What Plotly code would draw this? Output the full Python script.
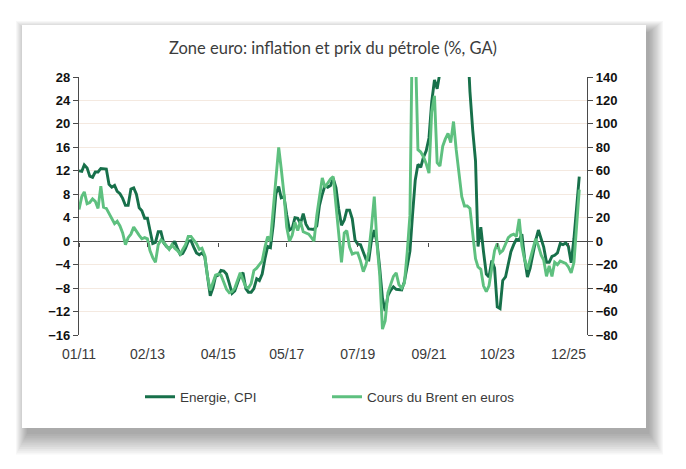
import pandas as pd
import plotly.graph_objects as go

# ---- data (monthly, Jan 2011 -> Apr 2026) ----
energie_cpi = [
    12.0, 11.9, 13.0, 12.5, 11.1, 10.9, 11.8, 11.8, 12.4, 12.4, 12.3, 9.7,
    9.2, 9.5, 8.5, 8.1, 7.3, 6.1, 6.1, 8.9, 9.1, 8.0, 5.7, 5.2,
    3.9, 3.9, 1.7, -0.4, -0.2, 1.6, 1.6, -0.3, -0.9, -1.3, -0.8, 0.0,
    -1.2, -2.3, -2.1, -1.2, 0.0, 0.1, -1.0, -2.0, -2.3, -2.0, -2.6, -6.3,
    -9.3, -7.9, -6.0, -5.8, -5.0, -5.1, -5.6, -7.2, -8.9, -8.5, -7.3, -5.8,
    -5.4, -8.1, -8.7, -8.7, -8.1, -6.4, -6.7, -5.6, -3.0, -0.9, -1.1, 2.6,
    8.1, 9.3, 7.4, 7.6, 4.5, 1.9, 2.2, 4.0, 3.9, 3.0, 4.7, 2.9,
    2.1, 2.1, 2.0, 2.6, 6.1, 8.0, 9.5, 9.2, 9.5, 10.7, 9.1, 5.5,
    2.7, 3.6, 5.3, 5.3, 3.8, 0.2, -0.5, -0.6, -1.8, -3.1, -3.2, 0.2,
    1.9, -0.3, -4.5, -9.7, -11.9, -9.3, -8.4, -7.8, -8.2, -8.2, -8.3, -6.9,
    -4.2, -1.7, 4.3, 10.4, 13.1, 12.6, 14.3, 15.4, 17.6, 23.7, 27.5, 26.0,
    28.8, 32.0, 44.4, 37.5, 39.1, 42.0, 39.6, 38.6, 40.7, 41.5, 34.9, 25.5,
    18.9, 13.7, -0.9, 2.4, -1.8, -5.6, -6.1, -3.3, -4.6, -11.2, -11.5, -6.7,
    -6.1, -3.7, -1.8, -0.6, 0.3, 0.2, 1.2, -3.0, -6.1, -4.6, -2.0, 0.1,
    1.9, 0.2, -1.0, -3.6, -3.6, -2.6, -2.4, -2.0, -0.4, -0.6, -0.3, -0.9,
    -3.7, 0.5, 6.0, 11.0,
]

brent_eur = [
    27, 38, 42, 32, 33, 36, 34, 28, 47, 29, 28, 24,
    19, 15, 17, 13, 7, -3, 3, 6, 12, 8, 5, 2,
    3, 2, -8, -14, -18, -3, 1, -1, -4, -7, -3, -6,
    -8, -11, -7, -3, 4, 4, 1, -2, -7, -6, -12, -30,
    -42, -34, -29, -28, -29, -35, -41, -44, -43, -40, -34, -27,
    -33, -39, -40, -36, -25, -23, -20, -17, -5, 4, 0, 28,
    55, 80, 62, 40, 12, 0, 5, 16, 9, 17, 8, 7,
    6, 3, 0, 22, 40, 54, 46, 50, 53, 55, 30, 5,
    -18, 7, 9, -5, -11, -10, -10, -17, -26, -20, -9, 12,
    38, -3, -28, -75, -68, -44, -37, -30, -27, -37, -40, -36,
    -10, 22, 190, 170, 78, 76, 72, 66, 58, 110, 124, 67,
    64, 81, 87, 92, 84, 102, 78, 57, 38, 30, 30, 28,
    5, -15, -22, -24, -38, -43, -38, -22, -8, -2, -10, -8,
    -3, 3, 5, 6, 4, 19, -4, -16, -24, -16, -8, 2,
    -4, -12, -16, -30, -21, -30, -18, -20, -17, -18, -19, -22,
    -27, -18, 16, 44,
]

tick_dates = ["2011-01-01", "2013-02-01", "2015-04-01", "2017-05-01",
              "2019-07-01", "2021-09-01", "2023-10-01", "2025-12-01"]

title_text = "Zone euro: inflation et prix du pétrole (%, GA)"
name_energie = "Energie, CPI"
name_brent = "Cours du Brent en euros"

dates = pd.date_range("2011-01-01", periods=len(energie_cpi), freq="MS")

# ---- layout geometry (pixels) ----
W, H = 686, 469
L, R, T, B = 79, 587, 77, 335          # plot area edges
pw, ph = R - L, B - T

def px(x):
    return (x - L) / pw

def py(y):
    return (B - y) / ph

DARK = "#17704A"
LIGHT = "#5EC07F"
AXIS = "#4a4a4a"
SANS = "Liberation Sans, Arial, sans-serif"
TXT = "#3a3a3a"

fig = go.Figure()
fig.add_trace(go.Scatter(x=dates, y=energie_cpi, name=name_energie, mode="lines",
                         line=dict(color=DARK, width=2.9), yaxis="y", xaxis="x",
                         legend="legend"))
fig.add_trace(go.Scatter(x=dates, y=brent_eur, name=name_brent, mode="lines",
                         line=dict(color=LIGHT, width=2.9), yaxis="y2", xaxis="x",
                         legend="legend2"))
# helper (empty) trace so the zero-line tick axis is drawn
fig.add_trace(go.Scatter(x=[dates[0]], y=[None], xaxis="x2", yaxis="y",
                         showlegend=False, hoverinfo="skip", mode="lines"))

# card with soft shadow (mostly below / right)
shapes = []
cx0, cy0, cx1, cy1 = 22, 25, 646, 428
N = 12
for i in range(N, 0, -1):
    e = i * 1.25
    shapes.append(dict(type="rect", xref="paper", yref="paper", layer="below",
                       x0=px(cx0 + 6 - 0.8 * e), x1=px(cx1 + 2 + e),
                       y0=py(cy1 + 4 + 1.5 * e), y1=py(cy0 + 8 - 0.8 * e),
                       line=dict(width=0), fillcolor="rgba(0,0,0,0.03)"))
shapes.append(dict(type="rect", xref="paper", yref="paper", layer="below",
                   x0=px(cx0), x1=px(cx1), y0=py(cy1), y1=py(cy0),
                   line=dict(width=0), fillcolor="white"))

xrange = ["2011-01-01", "2026-06-26"]

leg_common = dict(orientation="h", xanchor="left", yanchor="middle",
                  font=dict(family=SANS, size=13.5, color=TXT),
                  bgcolor="rgba(0,0,0,0)", itemwidth=30)

tickfont_y = dict(family=SANS, size=13, color="#111111", weight="bold")

fig.update_layout(
    width=W, height=H,
    margin=dict(l=L, r=W - R, t=T, b=H - B),
    paper_bgcolor="white", plot_bgcolor="rgba(0,0,0,0)",
    shapes=shapes,
    title=dict(text=title_text, x=333 / W, xanchor="center", y=1 - 48 / H, yanchor="middle",
               font=dict(family="Lato, Open Sans, sans-serif", size=16.5, color="#3c3c3c")),
    showlegend=True,
    legend=dict(x=px(140), y=py(397), **leg_common),
    legend2=dict(x=px(327), y=py(397), **leg_common),
    xaxis=dict(type="date", range=xrange, tickvals=tick_dates, tickformat="%m/%y",
               showgrid=False, zeroline=False, showline=False, ticks="",
               ticklabelstandoff=9,
               tickfont=dict(family=SANS, size=14, color=TXT)),
    xaxis2=dict(type="date", range=xrange, tickvals=tick_dates, overlaying="x",
                anchor="free", position=py(242), side="bottom",
                showgrid=False, zeroline=False, showline=False,
                ticks="outside", ticklen=4, tickcolor=AXIS, tickwidth=1.2,
                showticklabels=False),
    yaxis=dict(range=[-16, 28], tick0=0, dtick=4, showgrid=True, gridcolor="#F4E9E0",
               gridwidth=1, zeroline=True, zerolinecolor=AXIS, zerolinewidth=1.3,
               showline=True, linecolor=AXIS, linewidth=1.3,
               ticks="outside", ticklen=5, tickcolor=AXIS, tickwidth=1.2,
               tickfont=tickfont_y),
    yaxis2=dict(range=[-80, 140], tick0=0, dtick=20, overlaying="y", side="right",
                showgrid=False, zeroline=False, showline=True, linecolor=AXIS, linewidth=1.3,
                ticks="outside", ticklen=5, tickcolor=AXIS, tickwidth=1.2,
                tickfont=tickfont_y),
)

fig.write_html("out.html")
